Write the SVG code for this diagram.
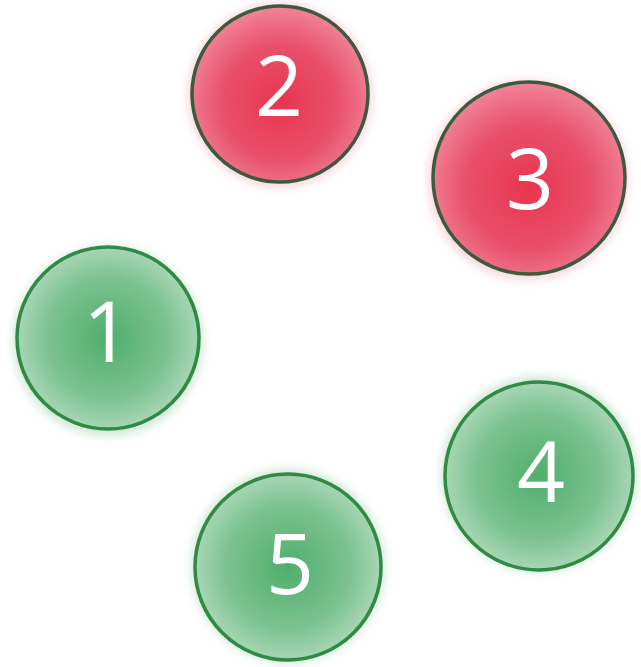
<svg xmlns="http://www.w3.org/2000/svg" width="641" height="667" viewBox="0 0 641 667">
  <style>
    .lbl { font-family: "Open Sans", "Liberation Sans", sans-serif; font-size: 84px; fill: #ffffff; text-anchor: middle; }
    .red { fill: url(#gRed); stroke: #3d5a3f; stroke-width: 3.5; }
    .green { fill: url(#gGreen); stroke: #2f8a43; stroke-width: 3.5; }
    .haloR { fill: #f3a2b0; opacity: 0.45; filter: url(#blur); }
    .haloG { fill: #9fd2ab; opacity: 0.5; filter: url(#blur); }
  </style>
  <defs>
    <radialGradient id="gRed" cx="0.5" cy="0.55" r="0.55">
      <stop offset="0" stop-color="#e8354f"/>
      <stop offset="0.6" stop-color="#e9506b"/>
      <stop offset="1" stop-color="#f08598"/>
    </radialGradient>
    <radialGradient id="gGreen" cx="0.5" cy="0.5" r="0.55">
      <stop offset="0" stop-color="#4fae6b"/>
      <stop offset="0.6" stop-color="#7cc290"/>
      <stop offset="1" stop-color="#b4dcc0"/>
    </radialGradient>
    <filter id="blur" x="-20%" y="-20%" width="140%" height="140%">
      <feGaussianBlur stdDeviation="5"/>
    </filter>
  </defs>
  <rect width="641" height="667" fill="#ffffff"/>
  <g id="connectors"></g>
  <g id="node-2">
    <circle class="haloR" cx="280" cy="95" r="92"/>
    <circle class="red" cx="280" cy="94" r="88"/>
    <text class="lbl" x="279" y="116">2</text>
  </g>
  <g id="node-3">
    <circle class="haloR" cx="528" cy="180" r="100"/>
    <circle class="red" cx="529" cy="178" r="96"/>
    <text class="lbl" x="530" y="209">3</text>
  </g>
  <g id="node-1">
    <circle class="haloG" cx="108" cy="341" r="95"/>
    <circle class="green" cx="108" cy="338" r="91"/>
    <text class="lbl" x="107" y="362">1</text>
  </g>
  <g id="node-4">
    <circle class="haloG" cx="539" cy="474" r="98"/>
    <circle class="green" cx="539" cy="476" r="94"/>
    <text class="lbl" x="541" y="502">4</text>
  </g>
  <g id="node-5">
    <circle class="haloG" cx="288" cy="566" r="97"/>
    <circle class="green" cx="288" cy="567" r="93"/>
    <text class="lbl" x="290" y="594">5</text>
  </g>
</svg>
